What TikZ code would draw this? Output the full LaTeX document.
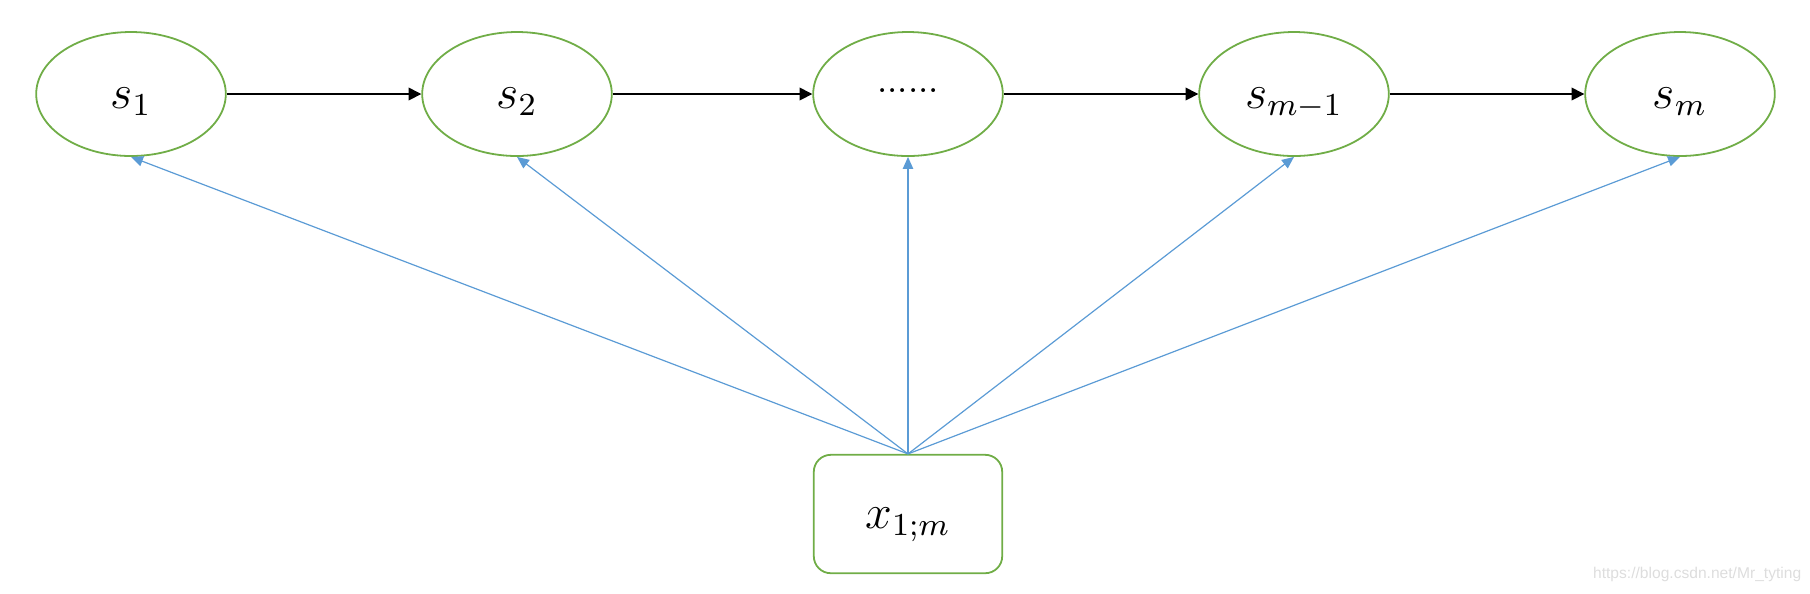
\documentclass[tikz,border=0pt]{standalone}
\usepackage{fontspec}
\newfontfamily\wmfont{Liberation Sans}
\usetikzlibrary{shapes.geometric,arrows.meta}
\definecolor{lgreen}{HTML}{70AD47}
\definecolor{lblue}{HTML}{5B9BD5}
\definecolor{wmgray}{HTML}{DDDDDD}
\begin{document}
\begin{tikzpicture}[x=0.25pt,y=-0.25pt,
  state/.style={ellipse,draw=lgreen,line width=0.45pt,minimum width=47.4pt,minimum height=31pt,inner sep=0pt,
    font=\fontsize{12}{14}\selectfont,text height=7pt,text depth=0pt},
  dotstate/.style={state,font=\fontsize{9}{10}\selectfont,text height=0pt,text depth=0.9pt},
  obsbox/.style={rectangle,rounded corners=4.25pt,draw=lgreen,line width=0.45pt,minimum width=47.1pt,minimum height=29.6pt,inner sep=0pt,
    font=\fontsize{12}{14}\selectfont,text height=7pt,text depth=0pt},
  chain/.style={draw=black,line width=0.375pt,-{Triangle[length=3.2pt,width=3.2pt]}},
  emit/.style={draw=lblue,line width=0.3pt,-{Triangle[length=3pt,width=2.6pt]}}
]
\useasboundingbox (0,0) rectangle (1810,593);
\node[state] (s1) at (131,94) {$s_1$};
\node[state] (s2) at (517,94) {$s_2$};
\node[dotstate] (sd) at (908,94) {......};
\node[state] (sm1) at (1294,94) {$s_{m-1}$};
\node[state] (sm) at (1680,94) {$s_m$};
\node[obsbox] (x) at (908,514) {$x_{1;m}$};
\draw[chain] (s1.east) -- (s2.west);
\draw[chain] (s2.east) -- (sd.west);
\draw[chain] (sd.east) -- (sm1.west);
\draw[chain] (sm1.east) -- (sm.west);
\draw[emit] (x.north) -- (s1.south);
\draw[emit] (x.north) -- (s2.south);
\draw[emit] (x.north) -- (sd.south);
\draw[emit] (x.north) -- (sm1.south);
\draw[emit] (x.north) -- (sm.south);
\node[anchor=base east,inner sep=0pt,text=wmgray,font=\wmfont\fontsize{3.9}{4.5}\selectfont] (wm) at (1802,578) {https://blog.csdn.net/Mr\_tyting};
\end{tikzpicture}
\end{document}
